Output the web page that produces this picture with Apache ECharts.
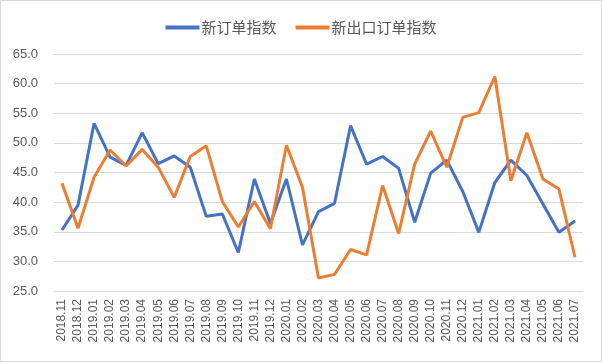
<!DOCTYPE html>
<html><head><meta charset="utf-8">
<script src="https://cdn.jsdelivr.net/npm/echarts@6/dist/echarts.min.js"></script>
<style>
html,body{margin:0;padding:0;background:#fff;}
#c{width:600px;height:360px;border:1px solid #d9d9d9;}
</style></head>
<body><div id="c"></div>
<script>
const categories = ['2018.11','2018.12','2019.01','2019.02','2019.03','2019.04','2019.05','2019.06','2019.07','2019.08','2019.09','2019.10','2019.11','2019.12','2020.01','2020.02','2020.03','2020.04','2020.05','2020.06','2020.07','2020.08','2020.09','2020.10','2020.11','2020.12','2021.01','2021.02','2021.03','2021.04','2021.05','2021.06','2021.07'];
const newOrders = [35.3,39.5,53.3,47.6,46.2,51.7,46.5,47.8,45.9,37.6,38.0,31.5,43.9,36.4,43.9,32.8,38.4,39.8,52.9,46.4,47.7,45.7,36.6,44.9,47.1,41.8,34.9,43.3,47.1,44.5,39.7,34.9,36.8];
const newExportOrders = [43.2,35.6,44.2,48.8,46.1,48.9,45.9,40.8,47.7,49.5,40.1,35.8,40.1,35.5,49.6,42.5,27.2,27.8,32.0,31.1,42.8,34.7,46.4,52.0,45.9,54.3,55.1,61.2,43.6,51.7,43.9,42.2,30.7];
const seriesNames = ['新订单指数','新出口订单指数'];

const chart = echarts.init(document.getElementById('c'));
chart.setOption({
  animation:false,
  color:['#4472C4','#ED7D31'],
  legend:{
    top:14, left:'center', itemWidth:34, itemHeight:4, itemGap:19,
    icon:'rect',
    textStyle:{fontSize:15,color:'#595959',fontFamily:'Noto Sans CJK SC',padding:[0,0,0,-3]},
    data:seriesNames
  },
  grid:{left:53,right:18,top:53,bottom:70},
  xAxis:{
    type:'category', data:categories, boundaryGap:true,
    axisLine:{lineStyle:{color:'#d9d9d9'}},
    axisTick:{show:false},
    axisLabel:{rotate:90,fontSize:12,color:'#595959',margin:8,interval:0,fontFamily:'Liberation Sans'}
  },
  yAxis:{
    type:'value', min:25, max:65, interval:5,
    axisLine:{show:false}, axisTick:{show:false},
    splitLine:{lineStyle:{color:'#d9d9d9'}},
    axisLabel:{fontSize:13,color:'#595959',margin:16,fontFamily:'Liberation Sans',formatter:v=>v.toFixed(1)}
  },
  series:[
    {name:seriesNames[0],type:'line',data:newOrders,showSymbol:false,symbol:'none',lineStyle:{width:3}},
    {name:seriesNames[1],type:'line',data:newExportOrders,showSymbol:false,symbol:'none',lineStyle:{width:3}}
  ]
});
</script></body></html>
